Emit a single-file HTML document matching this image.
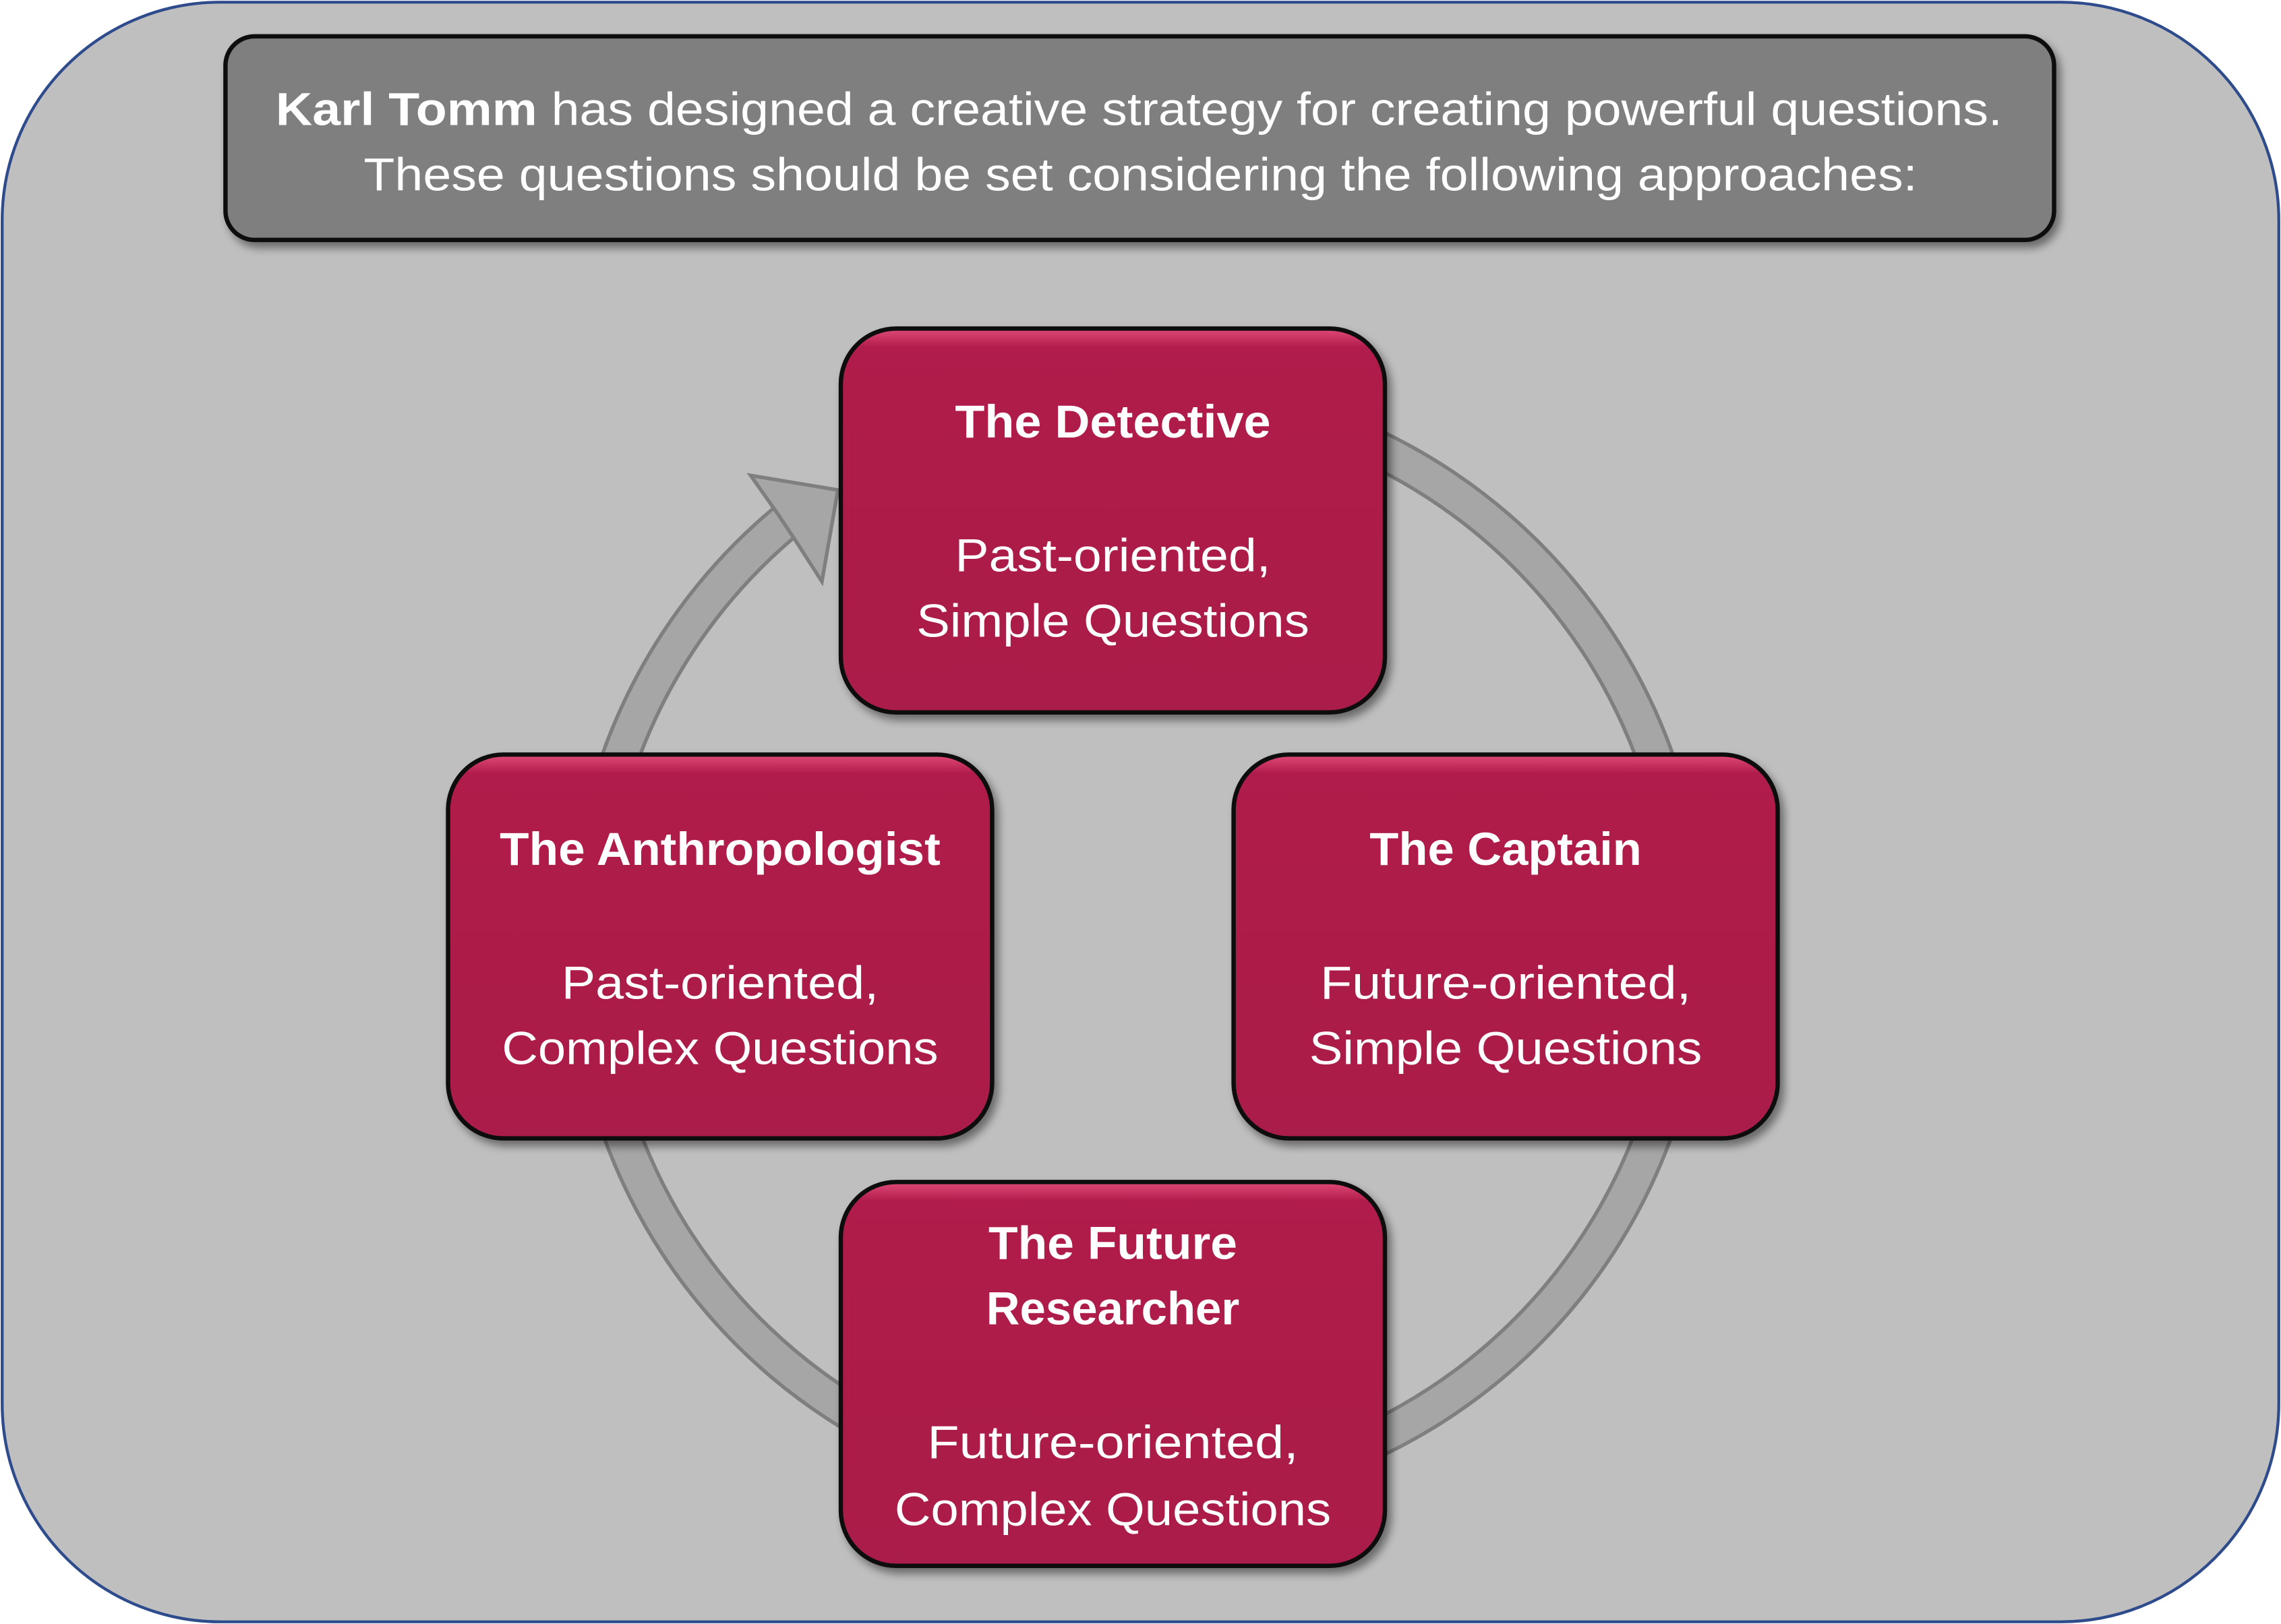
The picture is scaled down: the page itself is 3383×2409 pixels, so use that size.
<!DOCTYPE html>
<html><head><meta charset="utf-8"><style>html,body{margin:0;padding:0;background:#fff}svg{display:block}</style></head>
<body>
<svg width="3383" height="2409" viewBox="0 0 1568 1117" preserveAspectRatio="none" xmlns="http://www.w3.org/2000/svg">
<defs>
<filter id="sh" x="-10%" y="-10%" width="130%" height="130%"><feDropShadow dx="3" dy="4" stdDeviation="3" flood-color="#000" flood-opacity="0.45"/></filter>
<linearGradient id="bx" x1="0" y1="0" x2="0" y2="1">
<stop offset="0" stop-color="#e04a78"/><stop offset="0.05" stop-color="#b01c4b"/><stop offset="1" stop-color="#aa1a48"/>
</linearGradient>
</defs>
<rect x="1.5" y="1.5" width="1565" height="1114" rx="150" fill="#bfbfbf" stroke="#2e4b8c" stroke-width="2"/>
<rect x="155" y="25" width="1257" height="140" rx="20" fill="#7f7f7f" stroke="#111" stroke-width="3" filter="url(#sh)"/>
<g font-family="Liberation Sans, sans-serif" fill="#fff" font-size="32" text-anchor="middle">
<text x="783" y="86" textLength="1187" lengthAdjust="spacingAndGlyphs"><tspan font-weight="bold">Karl Tomm</tspan> has designed a creative strategy for creating powerful questions.</text>
<text x="784" y="131" textLength="1068" lengthAdjust="spacingAndGlyphs">These questions should be set considering the following approaches:</text>
</g>
<circle cx="782" cy="649" r="378" pathLength="360" fill="none" stroke="#7f7f7f" stroke-width="27" stroke-dasharray="230.2 14.8 115 0"/>
<circle cx="782" cy="649" r="378" pathLength="360" fill="none" stroke="#a6a6a6" stroke-width="22" stroke-dasharray="230.2 14.8 115 0"/>
<polygon points="516,327 576,337 565,400 547,372 535,354" fill="#a6a6a6" stroke="#7f7f7f" stroke-width="2.5"/>
<polygon points="519,329 573,339 563,394 548,371 536,353" fill="#a6a6a6"/>
<g stroke="#111" stroke-width="3" fill="url(#bx)" filter="url(#sh)">
<rect x="578" y="226" width="374" height="264" rx="38"/>
<rect x="308" y="519" width="374" height="264" rx="38"/>
<rect x="848" y="519" width="374" height="264" rx="38"/>
<rect x="578" y="813" width="374" height="264" rx="38"/>
</g>
<g font-family="Liberation Sans, sans-serif" fill="#fff" font-size="32" text-anchor="middle">
<text x="765" y="301" font-weight="bold" textLength="217" lengthAdjust="spacingAndGlyphs">The Detective</text>
<text x="765" y="393" textLength="217" lengthAdjust="spacingAndGlyphs">Past-oriented,</text>
<text x="765" y="438" textLength="270" lengthAdjust="spacingAndGlyphs">Simple Questions</text>

<text x="495" y="595" font-weight="bold" textLength="303" lengthAdjust="spacingAndGlyphs">The Anthropologist</text>
<text x="495" y="687" textLength="218" lengthAdjust="spacingAndGlyphs">Past-oriented,</text>
<text x="495" y="732" textLength="300" lengthAdjust="spacingAndGlyphs">Complex Questions</text>

<text x="1035" y="595" font-weight="bold" textLength="187" lengthAdjust="spacingAndGlyphs">The Captain</text>
<text x="1035" y="687" textLength="255" lengthAdjust="spacingAndGlyphs">Future-oriented,</text>
<text x="1035" y="732" textLength="270" lengthAdjust="spacingAndGlyphs">Simple Questions</text>

<text x="765" y="866" font-weight="bold" textLength="171" lengthAdjust="spacingAndGlyphs">The Future</text>
<text x="765" y="911" font-weight="bold" textLength="174" lengthAdjust="spacingAndGlyphs">Researcher</text>
<text x="765" y="1003" textLength="255" lengthAdjust="spacingAndGlyphs">Future-oriented,</text>
<text x="765" y="1049" textLength="300" lengthAdjust="spacingAndGlyphs">Complex Questions</text>
</g>
</svg>
</body></html>
